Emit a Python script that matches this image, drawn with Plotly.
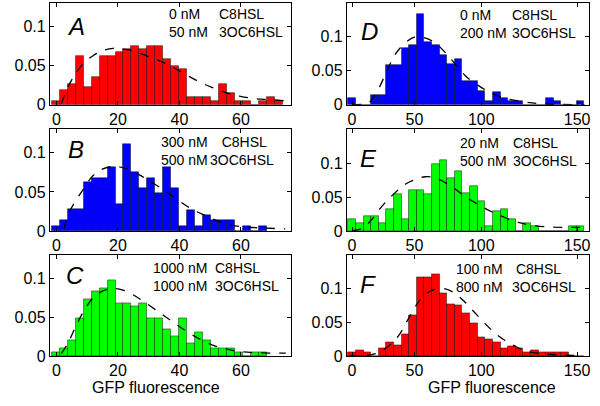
import plotly.graph_objs as go

# ---- data ----
# left column: 29 bins (width ~2.59), right column: 31 bins of 5 (0..150)
left_bin0 = -0.27
left_binw = 2.59
right_bin0 = 0
right_binw = 5

a_hist = [0.005, 0.019, 0.027, 0.062, 0.022, 0.036, 0.062, 0.062, 0.067, 0.071,
          0.075, 0.071, 0.075, 0.075, 0.058, 0.049, 0.045, 0.010, 0.010, 0.010,
          0.005, 0.027, 0.015, 0.005, 0.005, 0.0, 0.005, 0.010, 0.005]
b_hist = [0.007, 0.014, 0.028, 0.028, 0.062, 0.068, 0.068, 0.082, 0.034, 0.111,
          0.075, 0.055, 0.068, 0.048, 0.082, 0.055, 0.007, 0.027, 0.007, 0.020,
          0.014, 0.014, 0.014, 0.0, 0.007, 0.0, 0.007]
c_hist = [0.005, 0.010, 0.020, 0.049, 0.073, 0.084, 0.087, 0.098, 0.068, 0.068,
          0.064, 0.068, 0.049, 0.049, 0.035, 0.025, 0.049, 0.016, 0.030, 0.020,
          0.010, 0.010, 0.010, 0.005, 0.0, 0.005, 0.005]
d_hist = [0.010, 0.0, 0.0, 0.015, 0.015, 0.059, 0.059, 0.083, 0.088, 0.134,
          0.092, 0.088, 0.074, 0.060, 0.067, 0.035, 0.035, 0.020, 0.005, 0.019,
          0.010, 0.005, 0.005, 0.0, 0.0, 0.0, 0.010, 0.005, 0.0, 0.0, 0.005]
e_hist = [0.018, 0.012, 0.023, 0.023, 0.012, 0.033, 0.055, 0.018, 0.060, 0.060,
          0.055, 0.099, 0.105, 0.078, 0.089, 0.056, 0.066, 0.045, 0.008, 0.029,
          0.033, 0.018, 0.0, 0.012, 0.007, 0.0, 0.0, 0.0, 0.0, 0.008, 0.008]
f_hist = [0.005, 0.008, 0.005, 0.0, 0.012, 0.020, 0.016, 0.033, 0.060, 0.117,
          0.117, 0.121, 0.093, 0.077, 0.075, 0.064, 0.048, 0.028, 0.025, 0.020,
          0.012, 0.014, 0.012, 0.005, 0.008, 0.005, 0.005, 0.005, 0.005, 0.0, 0.0]

# dashed fit curves
a_fit_x = [1.6, 3.8, 5.9, 8.6, 11.9, 15.1, 18.4, 21.6, 24.9, 29.2, 33.5, 37.8,
           42.2, 46.5, 50.8, 55.1, 59.5, 63.8, 68.1, 74.1]
a_fit_y = [0.001, 0.023, 0.0375, 0.052, 0.0625, 0.069, 0.072, 0.071, 0.069, 0.0625,
           0.056, 0.048, 0.038, 0.029, 0.0217, 0.0154, 0.011, 0.008, 0.0067, 0.005]
b_fit_x = [2.5, 3.6, 6.3, 9.0, 11.7, 14.9, 18.7, 22.5, 26.8, 31.1, 35.5, 39.8,
           44.1, 48.4, 52.8, 57.1, 61.4, 67.9, 74.4]
b_fit_y = [0.003, 0.020, 0.039, 0.055, 0.070, 0.079, 0.0825, 0.080, 0.072, 0.062,
           0.051, 0.039, 0.028, 0.020, 0.0125, 0.0075, 0.0054, 0.004, 0.003]
c_fit_x = [1.6, 3.8, 6.5, 9.2, 11.9, 15.1, 18.4, 21.6, 24.9, 29.2, 33.5, 37.8,
           42.2, 46.5, 50.8, 55.1, 59.5, 65.9, 74.6]
c_fit_y = [0.003, 0.017, 0.040, 0.060, 0.075, 0.084, 0.087, 0.085, 0.079, 0.068,
           0.056, 0.044, 0.032, 0.022, 0.014, 0.009, 0.0057, 0.004, 0.0037]
d_fit_x = [0.1, 8.8, 12.1, 17.6, 23.0, 28.5, 35.0, 41.5, 48.0, 54.7, 61.2, 67.8,
           74.3, 83.1, 91.8, 100.5, 113.6, 126.7, 152.9]
d_fit_y = [0.0, 0.001, 0.0048, 0.024, 0.050, 0.0745, 0.091, 0.100, 0.0985, 0.091,
           0.077, 0.060, 0.043, 0.028, 0.017, 0.0096, 0.004, 0.001, 0.0]
e_fit_x = [0.1, 6.7, 12.1, 17.6, 23.0, 28.5, 35.0, 41.6, 48.1, 54.7, 61.2, 67.8,
           74.3, 83.1, 91.8, 100.5, 109.3, 118.0, 131.1, 144.2, 151.8]
e_fit_y = [0.001, 0.004, 0.015, 0.031, 0.045, 0.057, 0.069, 0.076, 0.080, 0.0786,
           0.0714, 0.062, 0.051, 0.039, 0.0286, 0.020, 0.0129, 0.0086, 0.0062,
           0.0057, 0.0057]
f_fit_x = [-2, 8.8, 15.4, 20.9, 26.3, 31.8, 37.2, 42.7, 48.1, 54.7, 61.2, 67.8,
           74.3, 80.9, 87.5, 94.0, 100.6, 107.2, 113.6, 122.4, 135.5, 150.8]
f_fit_y = [0.0, 0.0005, 0.0034, 0.0097, 0.019, 0.034, 0.056, 0.077, 0.092, 0.099,
           0.100, 0.093, 0.080, 0.064, 0.048, 0.034, 0.023, 0.0145, 0.008, 0.004,
           0.0015, 0.0005]

panels = [
    # letter, hist, fit x, fit y, colour, C8HSL conc, 3OC6HSL conc, column
    ('A', a_hist, a_fit_x, a_fit_y, '#ff0000', '0 nM', '50 nM', 0),
    ('D', d_hist, d_fit_x, d_fit_y, '#0000ff', '0 nM', '200 nM', 1),
    ('B', b_hist, b_fit_x, b_fit_y, '#0000ff', '300 nM', '500 nM', 0),
    ('E', e_hist, e_fit_x, e_fit_y, '#00ff00', '20 nM', '500 nM', 1),
    ('C', c_hist, c_fit_x, c_fit_y, '#00ff00', '1000 nM', '1000 nM', 0),
    ('F', f_hist, f_fit_x, f_fit_y, '#ff0000', '100 nM', '800 nM', 1),
]

W, H = 600, 406


def px(x, y):
    return x / W, 1 - y / H


# frame positions in pixels
col_x = [(50, 292), (348, 591)]
row_y = [(3, 107), (132, 236.5), (261, 364)]
x_ranges = [[-2.16, 76.3], [-3.4, 155.8]]
y_ranges = [[0, 0.13], [0, 0.15]]
x_ticks = [([0, 20, 40, 60], ['0', '20', '40', '60']),
           ([0, 41, 85, 148], ['0', '50', '100', '150'])]

# text positions (pixels): conc column x, compound column x, text centre y,
# leading spaces before C8HSL, letter x, letter y
text_pos = {
    'A': (168, 217.5, 24, 0, 76, 27),
    'D': (460, 512, 25, 0, 371, 32),
    'B': (160, 209, 154, 3, 76, 153),
    'E': (460, 512.5, 155, 0, 370, 162),
    'C': (152, 213.5, 283, 0, 75, 282),
    'F': (456, 512, 284, 1, 369, 291),
}

font = 'Liberation Sans, Arial, sans-serif'
data = []
layout = go.Layout(width=W, height=H, margin=dict(l=0, r=0, t=0, b=0),
                   paper_bgcolor='white', plot_bgcolor='white',
                   showlegend=False, bargap=0, font=dict(family=font, color='black'))
annotations = []

for i, (letter, hist, fx, fy, colour, c1, c2, col) in enumerate(panels):
    n = i + 1
    row = i // 2
    xa = 'x' if n == 1 else 'x%d' % n
    ya = 'y' if n == 1 else 'y%d' % n
    if col == 0:
        centers = [left_bin0 + left_binw * k for k in range(len(hist))]
        bw = left_binw
    else:
        centers = [right_bin0 + right_binw * k for k in range(len(hist))]
        bw = right_binw
    data.append(go.Bar(x=centers, y=hist, width=bw, xaxis=xa, yaxis=ya,
                       marker=dict(color=colour, line=dict(color='rgba(0,0,0,0.75)', width=0.6))))
    data.append(go.Scatter(x=fx, y=fy, mode='lines', xaxis=xa, yaxis=ya,
                           line=dict(color='black', width=1.3, dash='dash', shape='spline')))

    x0, x1 = col_x[col]
    top, bot = row_y[row]
    tv, tt = x_ticks[col]
    layout['xaxis' if n == 1 else 'xaxis%d' % n] = dict(
        domain=[x0 / W, x1 / W], range=x_ranges[col], anchor=ya,
        tickvals=tv, ticktext=tt, ticks='inside', ticklen=4, tickcolor='black',
        showline=True, linecolor='black', linewidth=1, mirror='allticks',
        showgrid=False, zeroline=False, tickfont=dict(size=16))
    layout['yaxis' if n == 1 else 'yaxis%d' % n] = dict(
        domain=[1 - bot / H, 1 - top / H], range=y_ranges[col], anchor=xa,
        tickvals=[0, 0.05, 0.1], ticktext=['0', '0.05', '0.1'],
        ticks='inside', ticklen=4, tickcolor='black',
        showline=True, linecolor='black', linewidth=1, mirror='allticks',
        showgrid=False, zeroline=False, tickfont=dict(size=16))

    cx, kx, ty, nsp, lx, ly = text_pos[letter]
    ax, ay = px(cx, ty)
    annotations.append(dict(x=ax, y=ay, xref='paper', yref='paper',
                            text='%s<br>%s' % (c1, c2), align='left',
                            showarrow=False, xanchor='left', yanchor='middle',
                            font=dict(size=14)))
    ax, ay = px(kx, ty)
    annotations.append(dict(x=ax, y=ay, xref='paper', yref='paper',
                            text='%sC8HSL<br>3OC6HSL' % ('&nbsp;' * nsp), align='left',
                            showarrow=False, xanchor='left', yanchor='middle',
                            font=dict(size=14)))
    ax, ay = px(lx, ly)
    annotations.append(dict(x=ax, y=ay, xref='paper', yref='paper', text='<i>%s</i>' % letter,
                            showarrow=False, xanchor='center', yanchor='middle',
                            font=dict(size=24)))

for gx in [157, 494]:
    ax, ay = px(gx, 396)
    annotations.append(dict(x=ax, y=ay, xref='paper', yref='paper', text='GFP fluorescence',
                            showarrow=False, xanchor='center', yanchor='middle',
                            font=dict(size=16)))

layout['annotations'] = annotations

fig = go.Figure(data=data, layout=layout)
# no page margin / scrollbars so the 600x406 figure fills the window exactly
page_js = ("document.documentElement.style.overflow='hidden';"
           "document.body.style.overflow='hidden';"
           "document.body.style.margin='0px';")
fig.write_html("out.html", config={'displayModeBar': False}, post_script=page_js)
